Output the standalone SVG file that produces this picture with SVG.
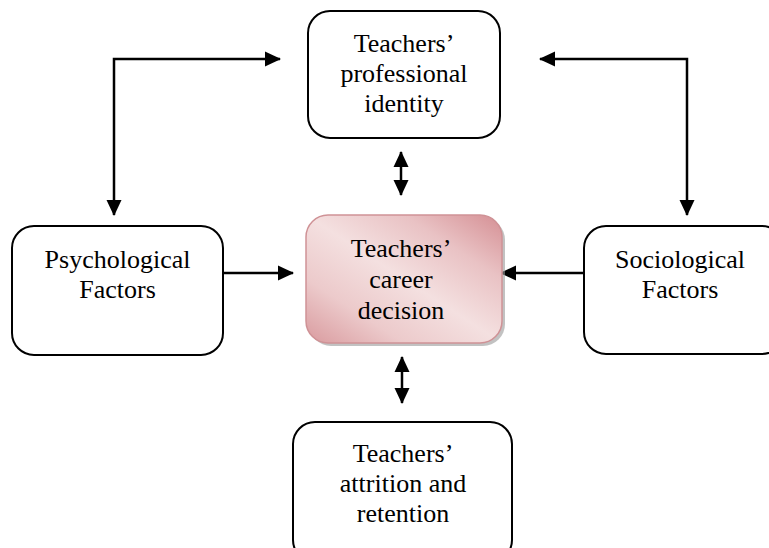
<svg xmlns="http://www.w3.org/2000/svg" width="769" height="548" viewBox="0 0 769 548">
  <defs>
    <marker id="ah" markerUnits="userSpaceOnUse" markerWidth="16" markerHeight="16" refX="15" refY="7.5" orient="auto-start-reverse" viewBox="0 0 16 15">
      <path d="M0,0 L16,7.5 L0,15 z" fill="#000"/>
    </marker>
    <linearGradient id="pink" x1="0" y1="1" x2="1" y2="0">
      <stop offset="0" stop-color="#d99a9e"/>
      <stop offset="0.25" stop-color="#eccacb"/>
      <stop offset="0.5" stop-color="#f4e0e0"/>
      <stop offset="0.75" stop-color="#e9c2c4"/>
      <stop offset="1" stop-color="#d58f94"/>
    </linearGradient>
    <style>
      .box { fill: #fff; stroke: #000; stroke-width: 2; }
      .txt { font-family: "Liberation Serif", "Times New Roman", serif; font-size: 26px; fill: #000; text-anchor: middle; }
      .conn { fill: none; stroke: #000; stroke-width: 2.5; }
    </style>
  </defs>

  <g id="connectors">
    <polyline class="conn" points="280,59 114,59 114,215" marker-start="url(#ah)" marker-end="url(#ah)"/>
    <polyline class="conn" points="540,59 687,59 687,215" marker-start="url(#ah)" marker-end="url(#ah)"/>
    <line class="conn" x1="223" y1="273" x2="293" y2="273" marker-end="url(#ah)"/>
    <line class="conn" x1="584" y1="273" x2="501" y2="273" marker-end="url(#ah)"/>
    <line class="conn" x1="401" y1="152" x2="401" y2="195" marker-start="url(#ah)" marker-end="url(#ah)"/>
    <line class="conn" x1="402" y1="357" x2="402" y2="403" marker-start="url(#ah)" marker-end="url(#ah)"/>
  </g>

  <g id="node-identity">
    <rect class="box" x="308" y="11" width="192" height="127" rx="22" ry="22"/>
    <text class="txt" x="404" y="52">Teachers’</text>
    <text class="txt" x="404" y="82">professional</text>
    <text class="txt" x="404" y="112">identity</text>
  </g>

  <g id="node-psychological">
    <rect class="box" x="12" y="226" width="211" height="129" rx="22" ry="22"/>
    <text class="txt" x="117.5" y="268">Psychological</text>
    <text class="txt" x="117.5" y="298">Factors</text>
  </g>

  <g id="node-sociological">
    <rect class="box" x="584" y="226" width="200" height="128" rx="22" ry="22"/>
    <text class="txt" x="680" y="268">Sociological</text>
    <text class="txt" x="680" y="298">Factors</text>
  </g>

  <g id="node-decision">
    <rect x="309" y="218" width="196" height="128" rx="22" ry="22" fill="#9a9a9a" opacity="0.6"/>
    <rect x="306" y="215" width="196" height="128" rx="22" ry="22" fill="url(#pink)" stroke="#cf9296" stroke-width="1.5"/>
    <text class="txt" x="401" y="257">Teachers’</text>
    <text class="txt" x="401" y="288">career</text>
    <text class="txt" x="401" y="319">decision</text>
  </g>

  <g id="node-attrition">
    <rect class="box" x="293" y="422" width="219" height="140" rx="22" ry="22"/>
    <text class="txt" x="403" y="462">Teachers’</text>
    <text class="txt" x="403" y="492">attrition and</text>
    <text class="txt" x="403" y="522">retention</text>
  </g>
</svg>
